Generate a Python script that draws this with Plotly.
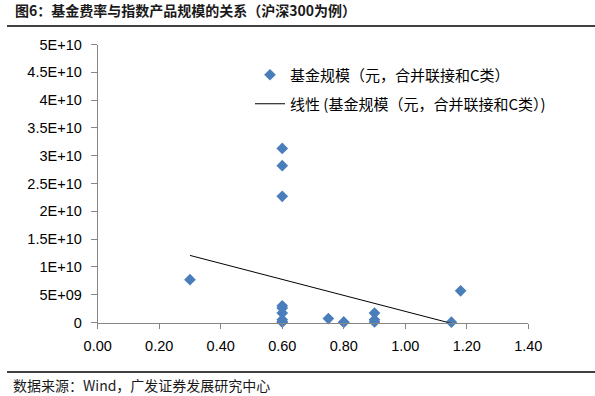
import numpy as np
import plotly.graph_objects as go

# Fund fee rate (x) and fund size in yuan (y)
fee_rate = [0.30, 0.60, 0.60, 0.60, 0.60, 0.60, 0.60, 0.60, 0.60, 0.60,
            0.75, 0.80, 0.80, 0.90, 0.90, 0.90, 1.15, 1.18]
fund_size = [7.7e9, 3.13e10, 2.82e10, 2.27e10, 3.0e9, 2.6e9, 1.7e9, 0.5e9, 0.1e9, 0.1e9,
             0.7e9, 0.05e9, 0.05e9, 1.7e9, 0.5e9, 0.1e9, 0.05e9, 5.7e9]

y_tickvals = [0, 5e9, 1e10, 1.5e10, 2e10, 2.5e10, 3e10, 3.5e10, 4e10, 4.5e10, 5e10]
y_ticktext = ["0", "5E+09", "1E+10", "1.5E+10", "2E+10", "2.5E+10", "3E+10",
              "3.5E+10", "4E+10", "4.5E+10", "5E+10"]
x_tickvals = [0.0, 0.2, 0.4, 0.6, 0.8, 1.0, 1.2, 1.4]
x_ticktext = ["0.00", "0.20", "0.40", "0.60", "0.80", "1.00", "1.20", "1.40"]

series_name = "基金规模（元，合并联接和C类）"
trend_name = "线性 (基金规模（元，合并联接和C类）)"
title_text = "图6：基金费率与指数产品规模的关系（沪深300为例）"
source_text = "数据来源：Wind，广发证券发展研究中心"

# linear trendline from data
slope, intercept = np.polyfit(fee_rate, fund_size, 1)
tx = np.array([min(fee_rate), max(fee_rate)])
ty = slope * tx + intercept

W, H = 595, 396
L, R, T, B = 97.7, 528.3, 44.5, 322.5

def fx(x):
    return x / W

def fy(y):
    return 1 - y / H

cjk = "Noto Sans CJK SC, sans-serif"
latin = "Liberation Sans, Arial, sans-serif"

fig = go.Figure()
fig.add_trace(go.Scatter(
    x=fee_rate, y=fund_size, mode="markers", name=series_name,
    marker=dict(symbol="diamond", size=9, color="#4A7EBB"),
    legend="legend", cliponaxis=False, xaxis="x", yaxis="y",
))
fig.add_trace(go.Scatter(
    x=tx, y=ty, mode="lines", name=trend_name,
    line=dict(color="#000000", width=1),
    legend="legend2", xaxis="x", yaxis="y",
))

# page separator rules (decoration) on a full-page overlay subplot in pixel units
fig.add_trace(go.Scatter(
    x=[7, W, None, 7, W], y=[26, 26, None, 372, 372], mode="lines",
    line=dict(color="#000000", width=1.5), showlegend=False, hoverinfo="skip",
    xaxis="x2", yaxis="y2",
))

fig.update_layout(
    width=W, height=H,
    margin=dict(l=0, r=0, t=0, b=0, pad=0),
    paper_bgcolor="white", plot_bgcolor="rgba(0,0,0,0)",
    showlegend=True,
    legend=dict(x=fx(250), y=fy(75), xanchor="left", yanchor="middle",
                font=dict(family=cjk, size=15, color="#000000"),
                bgcolor="rgba(0,0,0,0)", borderwidth=0, itemwidth=30),
    legend2=dict(x=fx(250), y=fy(104), xanchor="left", yanchor="middle",
                 font=dict(family=cjk, size=15, color="#000000"),
                 bgcolor="rgba(0,0,0,0)", borderwidth=0, itemwidth=30),
    xaxis=dict(domain=[fx(L), fx(R)], anchor="y", automargin=False,
               range=[0, 1.4], tickvals=x_tickvals, ticktext=x_ticktext,
               showgrid=False, zeroline=False, showline=True, linecolor="#868686",
               linewidth=1, ticks="outside", ticklen=5, tickcolor="#868686",
               ticklabelstandoff=5,
               tickfont=dict(family=latin, size=14.5, color="#000000")),
    yaxis=dict(domain=[fy(B), fy(T)], anchor="x", automargin=False,
               range=[0, 5e10], tickvals=y_tickvals, ticktext=y_ticktext,
               showgrid=False, zeroline=False, showline=True, linecolor="#868686",
               linewidth=1, ticks="outside", ticklen=6, tickcolor="#868686",
               ticklabelstandoff=6,
               tickfont=dict(family=latin, size=14.5, color="#000000")),
    xaxis2=dict(domain=[0, 1], anchor="y2", range=[0, W], visible=False,
                fixedrange=True),
    yaxis2=dict(domain=[0, 1], anchor="x2", range=[H, 0], visible=False,
                fixedrange=True),
    annotations=[
        dict(text="<b>" + title_text + "</b>", xref="paper", yref="paper",
             x=fx(13), y=fy(10), xanchor="left", yanchor="middle", showarrow=False,
             font=dict(family=cjk, size=14, color="#1a1a1a")),
        dict(text=source_text, xref="paper", yref="paper",
             x=fx(11), y=fy(385), xanchor="left", yanchor="middle", showarrow=False,
             font=dict(family=cjk, size=14, color="#1a1a1a")),
    ],
)

fig.write_html("out.html", config={"displayModeBar": False},
               post_script="document.body.style.margin='0';")
